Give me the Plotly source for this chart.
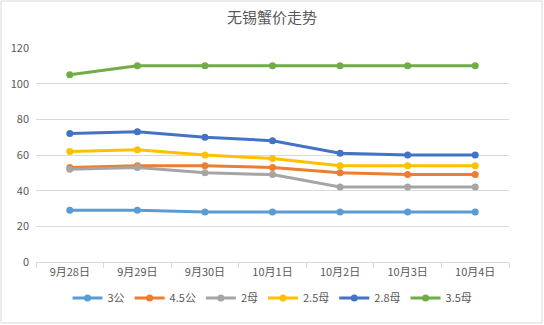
import plotly.graph_objects as go

dates = ["9月28日", "9月29日", "9月30日", "10月1日", "10月2日", "10月3日", "10月4日"]
names = ["3公", "4.5公", "2母", "2.5母", "2.8母", "3.5母"]
s_3gong = [29, 29, 28, 28, 28, 28, 28]
s_45gong = [53, 54, 54, 53, 50, 49, 49]
s_2mu = [52, 53, 50, 49, 42, 42, 42]
s_25mu = [62, 63, 60, 58, 54, 54, 54]
s_28mu = [72, 73, 70, 68, 61, 60, 60]
s_35mu = [105, 110, 110, 110, 110, 110, 110]
series = [s_3gong, s_45gong, s_2mu, s_25mu, s_28mu, s_35mu]
colors = ["#5B9BD5", "#ED7D31", "#A5A5A5", "#FFC000", "#4472C4", "#70AD47"]

W, H = 544, 325
ml, mr, mt, mb = 36, 35, 48, 63
pw, ph = W - ml - mr, H - mt - mb

fig = go.Figure()
for n, s, c in zip(names, series, colors):
    fig.add_trace(go.Scatter(x=dates, y=s, name=n, mode="lines+markers",
                             line=dict(color=c, width=3),
                             marker=dict(color=c, size=7)))

font = "Noto Sans CJK SC, Microsoft YaHei, sans-serif"
fig.update_layout(
    width=W, height=H,
    margin=dict(l=ml, r=mr, t=mt, b=mb),
    paper_bgcolor="white", plot_bgcolor="white",
    font=dict(family=font, size=11, color="#595959"),
    title=dict(text="无锡蟹价走势", x=0.5, xanchor="center", y=1 - 18 / H, yanchor="middle",
               font=dict(size=15, color="#595959")),
    showlegend=True,
    legend=dict(orientation="h", x=0.5, xanchor="center", y=-(298 - (H - mb)) / ph, yanchor="middle",
                font=dict(size=11, color="#595959"), itemwidth=30, tracegroupgap=0),
    xaxis=dict(type="category", range=[-0.5, 6.5], showgrid=False, showline=True,
               linecolor="#D9D9D9", linewidth=1, ticks="outside", tickson="boundaries",
               ticklen=5, tickcolor="#D9D9D9", tickfont=dict(size=11, color="#595959")),
    yaxis=dict(range=[0, 120], dtick=20, showgrid=True, gridcolor="#D9D9D9", gridwidth=1,
               zeroline=False, showline=False, tickfont=dict(size=11, color="#595959"),
               ticklabelstandoff=6),
)
fig.add_shape(type="rect", xref="paper", yref="paper",
              x0=(1 - ml) / pw, x1=(W - 2 - ml) / pw,
              y0=(H - mb - (H - 2)) / ph, y1=(H - mb - 1) / ph,
              line=dict(color="#D9D9D9", width=1), layer="below")
fig.write_html("out.html")
